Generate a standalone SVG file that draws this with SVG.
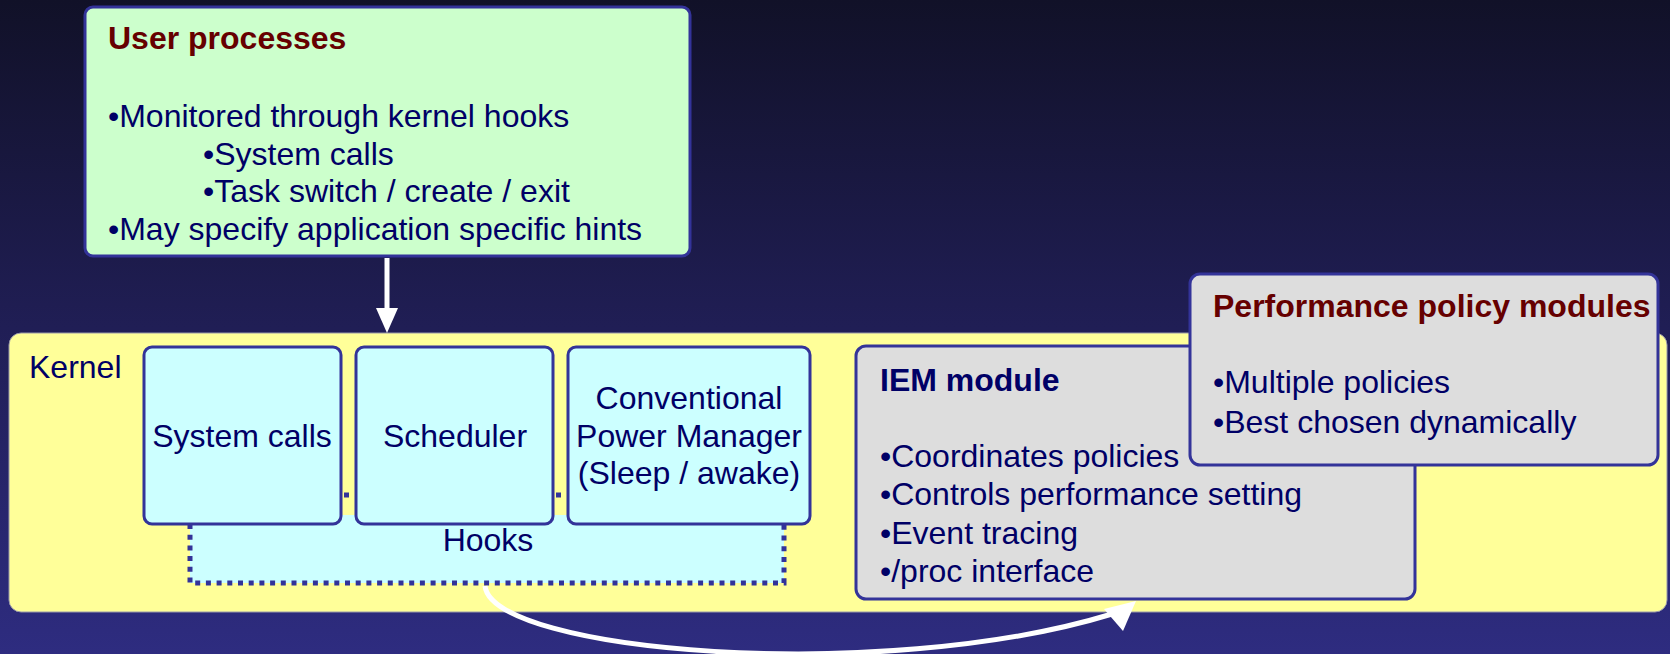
<svg xmlns="http://www.w3.org/2000/svg" width="1670" height="654" viewBox="0 0 1670 654">
<defs>
<linearGradient id="bg" x1="0" y1="0" x2="0" y2="1">
<stop offset="0" stop-color="#111128"/>
<stop offset="0.5" stop-color="#201e55"/>
<stop offset="1" stop-color="#2e2c80"/>
</linearGradient>
<style>
text{font-family:"Liberation Sans",Arial,sans-serif;font-size:32px;fill:#000066}
.title{font-weight:bold}
.red{fill:#660000}
.mid{text-anchor:middle}
.box{stroke:#333399;stroke-width:3}
.green{fill:#ccffcc}
.cyan{fill:#ccffff}
.gray{fill:#dddddd}
.dot{fill:none;stroke:#333399;stroke-width:5;stroke-dasharray:5 5.7}
.wire{fill:none;stroke:#ffffff;stroke-width:5}
</style>
</defs>
<rect width="1670" height="654" fill="url(#bg)"/>

<g id="kernel">
<rect x="9" y="333" width="1658" height="279" rx="12" fill="#ffff99" stroke="#9999aa" stroke-width="1"/>
<text x="29" y="378">Kernel</text>
</g>

<g id="hooks">
<rect x="190" y="515" width="594" height="68" class="cyan"/>
<path class="dot" d="M190,524 V583 H784 V524"/>
<text class="mid" x="488" y="551">Hooks</text>
</g>

<g id="user-processes">
<rect x="85" y="7" width="605" height="249" rx="8" class="box green"/>
<text class="title red" x="108" y="49">User processes</text>
<text x="108" y="127">•Monitored through kernel hooks</text>
<text x="203" y="165">•System calls</text>
<text x="203" y="202">•Task switch / create / exit</text>
<text x="108" y="240">•May specify application specific hints</text>
</g>

<g id="system-calls">
<rect x="144" y="347" width="197" height="177" rx="8" class="box cyan"/>
<text class="mid" x="242" y="447">System calls</text>
</g>

<g id="scheduler">
<rect x="356" y="347" width="197" height="177" rx="8" class="box cyan"/>
<text class="mid" x="455" y="447">Scheduler</text>
</g>

<g id="power-manager">
<rect x="568" y="347" width="242" height="177" rx="8" class="box cyan"/>
<text class="mid" x="689" y="409">Conventional</text>
<text class="mid" x="689" y="447">Power Manager</text>
<text class="mid" x="689" y="484">(Sleep / awake)</text>
</g>

<g id="iem-module">
<rect x="856" y="346" width="559" height="253" rx="10" class="box gray"/>
<text class="title" x="880" y="391">IEM module</text>
<text x="880" y="467">•Coordinates policies</text>
<text x="880" y="505">•Controls performance setting</text>
<text x="880" y="544">•Event tracing</text>
<text x="880" y="582">•/proc interface</text>
</g>

<g id="performance-policy-modules">
<rect x="1190" y="274" width="468" height="191" rx="10" class="box gray"/>
<text class="title red" x="1213" y="317">Performance policy modules</text>
<text x="1213" y="393">•Multiple policies</text>
<text x="1213" y="433">•Best chosen dynamically</text>
</g>

<g id="connectors">
<path class="dot" d="M344,495 H354"/>
<path class="dot" d="M556,495 H566"/>
<path class="wire" d="M387,258 V310"/>
<path d="M376,308 L398,308 L387,333 z" fill="#ffffff"/>
<path class="wire" d="M485,586 C492,652 880,685 1112,614"/>
<path d="M1104,609 L1136,601 L1123,631 z" fill="#ffffff"/>
</g>
</svg>
